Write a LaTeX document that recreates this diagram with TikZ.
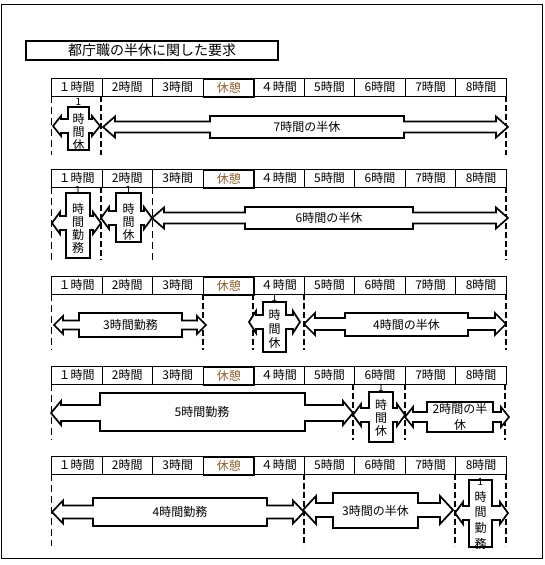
\documentclass[tikz,border=0pt]{standalone}
\usepackage{fontspec}
\setmainfont{Noto Sans CJK JP}
\definecolor{brk}{RGB}{140,95,45}
\tikzset{
  cellbox/.style={draw, line width=0.8pt, minimum width=50.56pt, minimum height=18pt, inner sep=0pt, anchor=north west, font=\fontsize{12}{12}\selectfont},
  brkbox/.style={cellbox, line width=1.8pt, text=brk},
  callbox/.style={draw, fill=white, line width=1.7pt, line join=miter},
  thickdash/.style={line width=2pt, dash pattern=on 6pt off 3pt},
  thindash/.style={line width=0.8pt, dash pattern=on 7pt off 4pt},
  lbl/.style={font=\fontsize{12}{14}\selectfont, inner sep=0pt},
  vch/.style={font=\fontsize{12}{12}\selectfont, inner sep=0pt},
  one/.style={font=\fontsize{10}{10}\selectfont, inner sep=0pt},
}
% header row: #1 name, #2 top y
\newcommand\hrow[2]{%
  \foreach \t [count=\k from 0] in {１時間,2時間,3時間,休憩,４時間,5時間,6時間,7時間,8時間}{%
    \ifnum\k=3\relax\else
      \node[cellbox] (#1-\k) at (51+\k*50.56,#2) {\t};
    \fi
  }%
  \node[brkbox] (#1-3) at (51+3*50.56,#2) {休憩};
}
% callout: #1 left tip, #2 right tip, #3 box left, #4 box right, #5 box top, #6 box bottom, #7 centre y, #8 shaft half, #9 head half; \HL head length
\newcommand\callout[9]{%
  \draw[callbox] (#3,#5) -- (#4,#5) -- (#4,#7-#8) -- (#2-\HL,#7-#8) -- (#2-\HL,#7-#9) -- (#2,#7)
    -- (#2-\HL,#7+#9) -- (#2-\HL,#7+#8) -- (#4,#7+#8) -- (#4,#6) -- (#3,#6) -- (#3,#7+#8)
    -- (#1+\HL,#7+#8) -- (#1+\HL,#7+#9) -- (#1,#7) -- (#1+\HL,#7-#9) -- (#1+\HL,#7-#8) -- (#3,#7-#8) -- cycle;
}
% vertical label: #1 name, #2 cx, #3 y of "1", #4 y of first char, #5 spacing, #6 chars
\newcommand\vlabel[6]{%
  \node[one] (#1-one) at (#2,#3) {1};
  \foreach \c [count=\k] in {#6} \node[vch] (#1-\k) at (#2,#4+\k*#5-#5) {\c};
}
\begin{document}
\begin{tikzpicture}[x=1pt,y=-1pt]
\useasboundingbox (0,0) rectangle (545,565);
\draw[line width=0.9pt] (1,4) rectangle (542,558);
\draw[line width=1.8pt] (26,41) rectangle (278,60);
\node[font=\fontsize{14}{14}\selectfont, inner sep=0pt] (title) at (152,50.5) {都庁職の半休に関した要求};

% ---------- row 1 ----------
\draw[thindash] (51,96) -- (51,155);
\draw[thickdash] (101,96) -- (101,155);
\draw[thickdash] (506,96) -- (506,155);
\def\HL{8}\callout{53}{100}{68}{89}{107}{150}{126}{7}{10}
\vlabel{a1}{78.5}{102}{119}{13}{時,間,休}
\def\HL{12}\callout{103}{508}{210}{404}{116}{138}{127}{5.5}{10.5}
\node[lbl] (b1) at (307,127) {7時間の半休};
\hrow{r1}{78}

% ---------- row 2 ----------
\draw[thindash] (51,187) -- (51,260);
\draw[thickdash] (101,187) -- (101,260);
\draw[thindash] (152,187) -- (152,260);
\draw[thickdash] (506,187) -- (506,260);
\def\HL{8}\callout{52}{101}{66}{90}{193}{258}{223}{7}{11}
\vlabel{a2}{78}{189.5}{209}{13}{時,間,勤,務}
\def\HL{8}\callout{101}{152}{116}{141}{193}{242}{218}{7}{11}
\vlabel{b2}{128.5}{189.5}{209}{13}{時,間,休}
\def\HL{12}\callout{152}{508}{245}{413}{207}{229}{218}{5.5}{10.5}
\node[lbl] (c2) at (329,218) {6時間の半休};
\hrow{r2}{169}

% ---------- row 3 ----------
\draw[thindash] (51,294) -- (51,350);
\draw[thickdash] (203,294) -- (203,350);
\draw[thickdash] (253,294) -- (253,350);
\draw[thickdash] (304,294) -- (304,350);
\draw[thickdash] (506,294) -- (506,350);
\def\HL{9}\callout{54}{206}{79}{182}{313}{337}{325}{4.5}{9}
\node[lbl] (a3) at (130.5,325) {3時間勤務};
\def\HL{7}\callout{249}{300}{263}{286}{302}{352}{322}{7}{11}
\vlabel{b3}{274.5}{297.5}{315}{14}{時,間,休}
\def\HL{11}\callout{304}{506}{345}{468}{313}{336}{324}{6}{11}
\node[lbl] (c3) at (406.5,324.5) {4時間の半休};
\hrow{r3}{276}

% ---------- row 4 ----------
\draw[thindash] (51,384) -- (51,440);
\draw[thickdash] (353,384) -- (353,440);
\draw[thickdash] (405,384) -- (405,440);
\draw[thickdash] (505,384) -- (505,440);
\def\HL{10}\callout{51}{353}{100}{305}{393}{431}{413}{8}{12}
\node[lbl] (a4) at (202,412) {5時間勤務};
\def\HL{8}\callout{353}{405}{369}{393}{392}{442}{415}{7}{11}
\vlabel{b4}{381}{387.5}{405}{13}{時,間,休}
\def\HL{8}\callout{405}{509}{427}{493}{402}{432}{417}{5}{10}
\node[lbl] (c4a) at (460,409) {2時間の半};
\node[lbl] (c4b) at (460,425) {休};
\hrow{r4}{366}

% ---------- row 5 ----------
\draw[thindash] (51,474) -- (51,546);
\draw[thickdash] (304,474) -- (304,546);
\draw[thickdash] (455,474) -- (455,546);
\draw[thickdash] (506,474) -- (506,546);
\def\HL{11}\callout{52}{304}{93}{267}{498}{526}{512}{6.5}{11.5}
\node[lbl] (a5) at (180,512) {4時間勤務};
\def\HL{13}\callout{303}{453}{333}{418}{493}{528}{510}{7}{14}
\node[lbl] (b5) at (375.5,511) {3時間の半休};
\def\HL{8}\callout{455}{508}{469}{492}{480}{547}{513}{7}{11}
\vlabel{c5}{480.5}{482}{497}{15.5}{時,間,勤,務}
\hrow{r5}{456}
\end{tikzpicture}
\end{document}
